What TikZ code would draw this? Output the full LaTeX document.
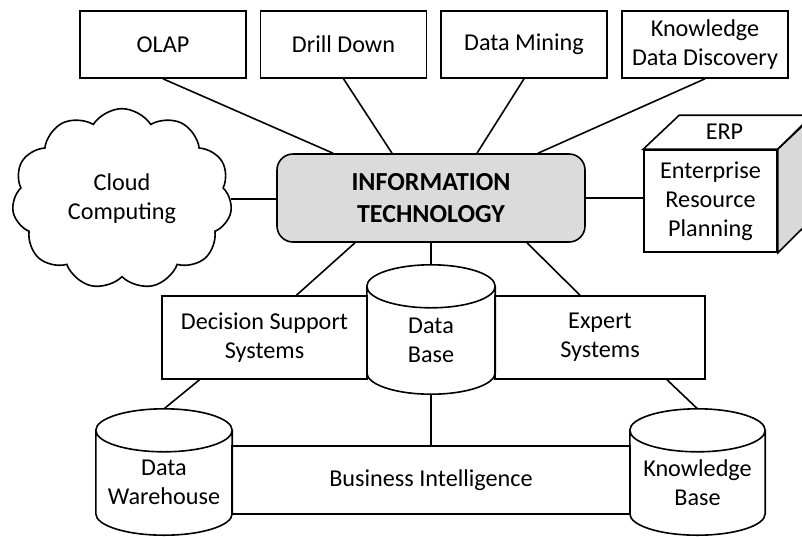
\documentclass[tikz,border=0pt]{standalone}
\usepackage{fontspec}
\setmainfont{Carlito}
\usetikzlibrary{positioning,calc,shapes.symbols}
\colorlet{hubfill}{black!14}
\colorlet{sidefill}{black!15}
\newcommand\dbcap{21.5pt}
\tikzset{
  every node/.style={font=\fontsize{24.2}{29}\selectfont},
  link/.style={line width=1.6pt},
  bx/.style={draw=black,line width=1.6pt,fill=white,align=center,inner sep=2pt},
  tool/.style={bx,minimum width=166pt,minimum height=67pt},
  hub/.style={bx,fill=hubfill,rounded corners=16pt,minimum width=308pt,minimum height=88pt,
    font=\fontsize{26}{32}\selectfont\bfseries},
  sys/.style={bx,minimum height=83pt},
  dbbody/.style={align=center,inner sep=0pt},
}
% cylinder outline round a body node (north = centre of the top cap)
\newcommand\dbshape[1]{%
  \draw[link] let \p1=($(#1.north east)-(#1.north west)$) in
    (#1.north west) -- ([yshift=\dbcap]#1.south west)
    arc[start angle=180,end angle=360,x radius=0.5*\x1,y radius=\dbcap]
    -- (#1.north east)
    arc[start angle=0,end angle=360,x radius=0.5*\x1,y radius=\dbcap];
}

\begin{document}
\begin{tikzpicture}[x=1pt,y=1pt]
  \useasboundingbox (0,0) rectangle (802,-536);
  \clip (0,0) rectangle (802,-536);

  % top row
  \node[tool] (olap) at (163,-44.5)  {OLAP};
  \node[tool] (dd)   at (343.5,-44.5) {Drill Down};
  \node[tool] (dm)   at (524,-44.5)  {Data Mining};
  \node[tool] (kdd)  at (705,-44.5)  {Knowledge\\Data Discovery};

  % centre
  \node[hub] (it) at (431,-198) {INFORMATION\\TECHNOLOGY};
  \node[cloud,cloud puffs=11,cloud puff arc=115,draw,line width=1.6pt,align=center,
        minimum width=220pt,minimum height=152pt] (cloud) at (122,-199) {Cloud\\Computing};

  % ERP block
  \node[bx,minimum width=133pt,minimum height=102pt] (erp) at (710.5,-201)
    {Enterprise\\Resource\\Planning};
  \draw[bx] (erp.north west) -- ++(36,34) -- ++(133,0) -- (erp.north east) -- cycle;
  \draw[bx,fill=sidefill] (erp.north east) -- ++(36,34) -- ++(0,-102) -- (erp.south east) -- cycle;
  \node (erptag) at ($(erp.north)+(14,17)$) {ERP};

  % middle row
  \node[sys,minimum width=205pt] (dss) at (264.5,-337.5) {Decision Support\\Systems};
  \node[sys,minimum width=210pt] (es)  at (600,-337.5)   {Expert\\Systems};
  \node[dbbody,minimum width=128pt,minimum height=107.5pt] (db) at (431,-340.25) {Data\\Base};
  \dbshape{db}

  % bottom row
  \node[bx,minimum width=398pt,minimum height=68pt] (bi) at (431,-480) {Business Intelligence};
  \node[dbbody,minimum width=136pt,minimum height=104.5pt] (dw) at (164,-482.75) {Data\\Warehouse};
  \node[dbbody,minimum width=135pt,minimum height=104.5pt] (kb) at (697.5,-482.75) {Knowledge\\Base};
  \dbshape{dw}
  \dbshape{kb}

  % links
  \foreach \n/\dx in {olap/-98,dd/-39,dm/46,kdd/107}
    \draw[link] (\n.south) -- ([xshift=\dx pt]it.north);
  \draw[link] (cloud.east) -- (cloud.east -| it.west);
  \draw[link] (it.east) -- (it.east -| erp.west);
  \draw[link] ([xshift=-76pt]it.south) -- ([xshift=32pt]dss.north);
  \draw[link] ([xshift=96pt]it.south) -- ([xshift=-20pt]es.north);
  \draw[link] (it.south) -- ([yshift=\dbcap]db.north);
  \draw[link] ([xshift=-65pt]dss.south) -- ([yshift=\dbcap]dw.north);
  \draw[link] ([xshift=67pt]es.south) -- ([yshift=\dbcap]kb.north);
  \draw[link] (db.south) -- (bi.north);
\end{tikzpicture}
\end{document}
